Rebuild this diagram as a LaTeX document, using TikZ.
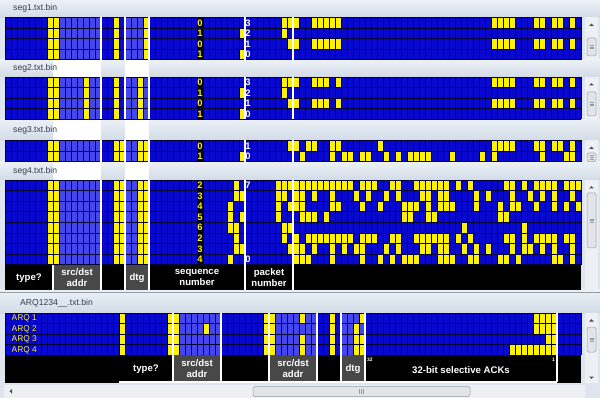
\documentclass[tikz,border=0pt]{standalone}
\usepackage{fontspec}
\setmainfont{Liberation Sans}
\usetikzlibrary{positioning}
\definecolor{bitblue}{RGB}{8,8,208}
\definecolor{hiblue}{RGB}{70,70,240}
\definecolor{bityel}{RGB}{255,242,0}
\definecolor{gridln}{RGB}{0,0,48}
\definecolor{winbg}{RGB}{222,229,238}
\definecolor{stripTop}{RGB}{236,241,247}
\definecolor{stripBot}{RGB}{210,219,230}
\definecolor{titletext}{RGB}{52,60,78}
\definecolor{fieldgray}{RGB}{72,72,72}
\definecolor{barbg}{RGB}{238,240,244}
\definecolor{barthumb}{RGB}{226,228,232}
\definecolor{baredge}{RGB}{150,156,166}

\newcommand{\cw}{6}      % cell width
\newcommand{\rh}{10.6}   % row height
\newcommand{\gx}{5}      % left edge of the grids

\tikzset{
  paneTitle/.style={font=\fontsize{8.6}{9}\selectfont, text=titletext, anchor=west, inner sep=0pt},
  fieldLbl/.style={font=\bfseries\fontsize{9.6}{11}\selectfont, text=white, align=center, inner sep=0pt},
  seqDigit/.style={font=\bfseries\fontsize{9.4}{9}\selectfont, text=bityel, inner sep=0pt},
  pktDigit/.style={font=\bfseries\fontsize{9.4}{9}\selectfont, text=white, inner sep=0pt},
  arqLbl/.style={font=\fontsize{8.4}{9}\selectfont, text=bityel, anchor=west, inner sep=0pt},
  tinyLbl/.style={font=\bfseries\fontsize{5}{5}\selectfont, text=white, inner sep=0pt},
  sepLine/.style={white, line width=1.1pt},
  cellLine/.style={gridln, line width=0.9pt},
  scrollThumb/.style={fill=barthumb, draw=baredge, line width=0.5pt, rounded corners=1.5pt},
  arrowTri/.style={fill=black!70},
}

% blue grid of 96 columns: \bitgrid{top}{rows}
\newcommand{\bitgrid}[2]{%
  \fill[bitblue] (\gx,#1) rectangle ++(96*\cw,#2*\rh);}
% lighter columns: \hicols{top}{rows}{first col}{count}
\newcommand{\hicols}[4]{%
  \fill[hiblue] (\gx+#3*\cw,#1) rectangle ++(#4*\cw,#2*\rh);}
% yellow bits in one row: \bits{top}{row}{cols}
\newcommand{\bits}[3]{%
  \foreach \bc in {#3}
    \fill[bityel] (\gx+\bc*\cw,#1+#2*\rh) rectangle ++(\cw,\rh);}
% yellow bits down whole columns: \bitcols{top}{rows}{cols}
\newcommand{\bitcols}[3]{%
  \foreach \bc in {#3}
    \fill[bityel] (\gx+\bc*\cw,#1) rectangle ++(\cw,#2*\rh);}
% cell borders: \celllines{top}{rows}
\newcommand{\celllines}[2]{%
  \foreach \bc in {0,...,96}
    \draw[cellLine] (\gx+\bc*\cw,#1) -- ++(0,#2*\rh);
  \foreach \rw in {0,...,#2}
    \draw[cellLine] (\gx,#1+\rw*\rh) -- ++(96*\cw,0);}
% white field borders: \seplines{top}{height}{cols}
\newcommand{\seplines}[3]{%
  \foreach \bc in {#3}
    \draw[sepLine] (\gx+\bc*\cw,#1) -- ++(0,#2);}
% digits down one column: \digits{name}{top}{col}{style}{list}
\newcommand{\digits}[5]{%
  \foreach \dg [count=\rw from 0] in {#5}
    \node[#4] (#1-\rw) at (\gx+#3*\cw+3,#2+\rw*\rh+\rh/2) {\dg};}
% vertical scroll bar: \vscroll{top}{bottom}{thumb top}{thumb bottom}
\newcommand{\vscroll}[4]{%
  \fill[barbg] (585,#1) rectangle (598,#2);
  \fill[arrowTri] (589.2,#1+8.5) -- (591.5,#1+6) -- (593.8,#1+8.5) -- cycle;
  \draw[scrollThumb] (587,#3) rectangle (596,#4);
  \foreach \k in {0,1,2}
    \draw[baredge, line width=0.5pt] (589.5,{(#3+#4)/2-1.6+1.6*\k}) -- ++(4,0);}

\begin{document}
\begin{tikzpicture}[x=1pt,y=-1pt]
\useasboundingbox (0,0) rectangle (600,398);
\fill[winbg] (0,0) rectangle (600,398);
% title strips
\foreach \ya/\yb in {0/17.5,60/77,119.4/140.5,161.7/180,290/313}
  \shade[top color=stripTop, bottom color=stripBot] (0,\ya) rectangle (600,\yb);
\draw[baredge, line width=0.6pt] (0,292.5) -- (600,292.5);
% highlighted fields run through the strips between the seg panes
\foreach \ya/\yb in {60/77,119.4/140.5,161.7/180} {
  \fill[white] (\gx+8*\cw,\ya) rectangle (\gx+16*\cw,\yb);
  \fill[white] (\gx+20*\cw,\ya) rectangle (\gx+24*\cw,\yb);
}

% pane titles
\node[paneTitle] (t-seg1) at (13,8.5) {seg1.txt.bin};
\node[paneTitle] (t-seg2) at (13,68.5) {seg2.txt.bin};
\node[paneTitle] (t-seg3) at (13,130) {seg3.txt.bin};
\node[paneTitle] (t-seg4) at (13,171) {seg4.txt.bin};
\node[paneTitle] (t-arq) at (20,303.5) {ARQ1234\_\_.txt.bin};

% ---- seg1 ----
\bitgrid{17.5}{4}
\hicols{17.5}{4}{8}{8}
\hicols{17.5}{4}{20}{4}
\bitcols{17.5}{4}{7,8,18,23}
\fill[black] (\gx+32*\cw,17.5) rectangle ++(\cw,4*\rh);
\bits{17.5}{0}{46,47,48,51,52,53,54,55,81,82,83,84,88,89,91,92,94}
\bits{17.5}{1}{39,46}
\bits{17.5}{2}{47,48,51,52,53,54,55,81,82,83,84,88,89,91,92,94}
\bits{17.5}{3}{39}
\celllines{17.5}{4}
\seplines{17.5}{42.4}{16,20,24,40,48}
\digits{seq1}{17.5}{32}{seqDigit}{0,1,0,1}
\digits{pkt1}{17.5}{40}{pktDigit}{3,2,1,0}

% ---- seg2 ----
\bitgrid{77}{4}
\hicols{77}{4}{8}{8}
\hicols{77}{4}{20}{4}
\bitcols{77}{4}{7,8,13,18,22}
\fill[black] (\gx+32*\cw,77) rectangle ++(\cw,4*\rh);
\bits{77}{0}{46,47,48,51,52,53,55,81,82,83,84,88,89,91,92,94}
\bits{77}{1}{39,46}
\bits{77}{2}{47,48,51,52,53,55,81,82,83,84,88,89,91,92,94}
\bits{77}{3}{39}
\celllines{77}{4}
\seplines{77}{42.4}{16,20,24,40,48}
\digits{seq2}{77}{32}{seqDigit}{0,1,0,1}
\digits{pkt2}{77}{40}{pktDigit}{3,2,1,0}

% ---- seg3 ----
\bitgrid{140.5}{2}
\hicols{140.5}{2}{8}{8}
\hicols{140.5}{2}{20}{4}
\bitcols{140.5}{2}{7,8,18,19,22,23}
\fill[black] (\gx+32*\cw,140.5) rectangle ++(\cw,2*\rh);
\bits{140.5}{0}{47,48,50,51,54,55,62,81,82,83,84,88,89,91,92,94}
\bits{140.5}{1}{39,49,54,56,57,59,60,63,65,67,68,69,70,74,79,81,89,93,94}
\celllines{140.5}{2}
\seplines{140.5}{21.2}{16,20,24,40,48}
\digits{seq3}{140.5}{32}{seqDigit}{0,1}
\digits{pkt3}{140.5}{40}{pktDigit}{1,0}

% ---- seg4 ----
\bitgrid{180}{8}
\hicols{180}{8}{8}{8}
\hicols{180}{8}{20}{4}
\bitcols{180}{8}{7,8,18,19,22,23}
\fill[black] (\gx+32*\cw,180) rectangle ++(\cw,8*\rh);
\bits{180}{0}{38,45,46,47,48,49,50,51,52,53,54,55,56,57,59,60,61,64,65,68,69,70,71,72,73,75,77,83,84,86,88,89,90,91,93,94,95}
\bits{180}{1}{38,39,45,46,48,49,51,54,58,60,63,65,69,70,72,73,78,80,84,87,89,91,94}
\bits{180}{2}{37,45,47,48,49,54,55,59,62,66,67,68,70,72,73,74,78,82,84,85,88,91,93,95}
\bits{180}{3}{37,39,45,49,50,51,53,66,67,70,71,82,83}
\bits{180}{4}{37,38,46,47,76,86}
\bits{180}{5}{38,46,48,50,51,52,53,54,55,56,57,59,60,61,64,65,68,69,70,71,72,73,75,77,83,84,86,88,89,90,91,93,94}
\bits{180}{6}{38,39,47,48,49,51,54,56,58,59,63,65,69,70,72,73,76,78,80,84,86,87,89,91,94}
\bits{180}{7}{37,48,49,50,54,59,62,64,66,67,68,72,73,74,77,78,82,83,85,91,92,94}
\celllines{180}{8}
\digits{seq4}{180}{32}{seqDigit}{2,3,4,5,6,2,3,4}
\node[pktDigit] (pkt4-0) at (\gx+40*\cw+3,180+\rh/2) {7};
\node[pktDigit] (pkt4-7) at (\gx+40*\cw+3,180+7.5*\rh) {0};
% seg4 field labels
\fill[black] (\gx,264.8) rectangle (\gx+96*\cw,290);
\fill[fieldgray] (\gx+8*\cw,264.8) rectangle (\gx+16*\cw,290);
\fill[fieldgray] (\gx+20*\cw,264.8) rectangle (\gx+24*\cw,290);
\seplines{180}{110}{16,20,24,40,48}
\seplines{264.8}{25.2}{8}
\node[fieldLbl] (lbl-type) at (\gx+4*\cw,278.5) {type?};
\node[fieldLbl] (lbl-addr) at (\gx+12*\cw,278) {src/dst\\addr};
\node[fieldLbl] (lbl-dtg) at (\gx+22*\cw,278.5) {dtg};
\node[fieldLbl] (lbl-seq) at (\gx+32*\cw,277.5) {sequence\\number};
\node[fieldLbl] (lbl-pkt) at (\gx+44*\cw,277.5) {packet\\number};

% ---- ARQ ----
\bitgrid{313}{4}
\hicols{313}{4}{28}{8}
\hicols{313}{4}{44}{8}
\hicols{313}{4}{56}{4}
\bitcols{313}{4}{19,27,28,43,44,54}
\bits{313}{0}{49,59,88,89,90,91}
\bits{313}{1}{33,58,88,89,90,91}
\bits{313}{2}{49,58,59,90,91}
\bits{313}{3}{49,58,59,84,85,86,87,88,89,90,91}
\celllines{313}{4}
\foreach \rw in {1,...,4}
  \node[arqLbl] (arq-row\rw) at (11.5,313+\rw*\rh-\rh/2) {ARQ \rw};
% ARQ field labels
\fill[black] (\gx,355.4) rectangle (\gx+96*\cw,382.6);
\fill[fieldgray] (\gx+28*\cw,355.4) rectangle (\gx+36*\cw,382);
\fill[fieldgray] (\gx+44*\cw,355.4) rectangle (\gx+52*\cw,382);
\fill[fieldgray] (\gx+56*\cw,355.4) rectangle (\gx+60*\cw,382);
\seplines{313}{69}{28,36,44,52,56,60,92}
\draw[sepLine] (\gx+19*\cw,382) -- (\gx+92*\cw,382);
\node[fieldLbl] (arq-type) at (\gx+23.5*\cw,369) {type?};
\node[fieldLbl] (arq-addr1) at (\gx+32*\cw,369) {src/dst\\addr};
\node[fieldLbl] (arq-addr2) at (\gx+48*\cw,369) {src/dst\\addr};
\node[fieldLbl] (arq-dtg) at (\gx+58*\cw,369) {dtg};
\node[fieldLbl] (arq-acks) at (\gx+76*\cw,370) {32-bit selective ACKs};
\node[tinyLbl, anchor=north west] (arq-32) at (\gx+60*\cw+2,357.5) {32};
\node[tinyLbl, anchor=north east] (arq-1) at (\gx+92*\cw-2,357.5) {1};

% ---- scroll bars ----
\vscroll{17.5}{60}{38}{56}
\vscroll{77}{119.4}{92}{116}
\vscroll{140.5}{161.7}{153}{161.7}
\vscroll{180}{290}{193}{248}
\vscroll{313}{383}{327}{352}
\fill[arrowTri] (589.2,376.5) -- (591.5,379) -- (593.8,376.5) -- cycle;
\fill[barbg] (4,385) rectangle (585,398);
\fill[arrowTri] (12,389) -- (9.5,391.3) -- (12,393.6) -- cycle;
\draw[scrollThumb] (253,386.5) rectangle (470,396.5);
\foreach \k in {0,1,2}
  \draw[baredge, line width=0.5pt] (359.5+2*\k,389) -- ++(0,5);
\end{tikzpicture}
\end{document}
